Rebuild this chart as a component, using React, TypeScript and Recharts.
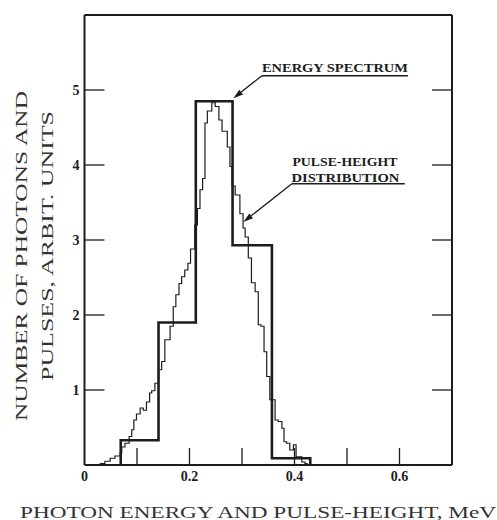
import React from 'react';
import { LineChart, Line, XAxis, YAxis, ReferenceLine, ReferenceDot } from 'recharts';

// energy spectrum (heavy histogram): bin edges and heights
const energyEdges = [0.069, 0.141, 0.212, 0.282, 0.357, 0.43];
const energyValues = [0.33, 1.9, 4.85, 2.93, 0.09];

// pulse-height distribution (fine histogram)
const pulseEdges = [
  0.03, 0.039, 0.049, 0.058, 0.068, 0.071, 0.077, 0.085, 0.09, 0.094, 0.099, 0.106, 0.112,
  0.118, 0.124, 0.128, 0.134, 0.141, 0.147, 0.153, 0.163, 0.169, 0.174, 0.18, 0.185, 0.191,
  0.197, 0.202, 0.21, 0.215, 0.22, 0.225, 0.2295, 0.234, 0.2425, 0.249, 0.256, 0.262, 0.272,
  0.277, 0.281, 0.287, 0.296, 0.302, 0.306, 0.312, 0.318, 0.325, 0.331, 0.336, 0.342, 0.347,
  0.353, 0.358, 0.363, 0.369, 0.376, 0.38, 0.385, 0.391, 0.398, 0.403, 0.414, 0.42, 0.424,
];
const pulseValues = [
  0.02, 0.05, 0.09, 0.12, 0.17, 0.24, 0.29, 0.38, 0.47, 0.6, 0.68, 0.76, 0.73, 0.84, 0.96,
  0.99, 1.09, 1.27, 1.38, 1.67, 1.85, 2.11, 2.27, 2.42, 2.51, 2.6, 2.69, 2.88, 3.2, 3.42, 3.67,
  3.82, 4.56, 4.72, 4.83, 4.78, 4.6, 4.45, 4.24, 3.98, 3.72, 3.6, 3.35, 3.16, 3.04, 2.76, 2.43,
  2.31, 1.87, 1.85, 1.51, 1.18, 0.87, 0.87, 0.6, 0.58, 0.49, 0.31, 0.29, 0.2, 0.27, 0.11, 0.04,
  0.02,
];

const xTicks = [0, 0.1, 0.2, 0.3, 0.4, 0.5, 0.6];
const xLabels = ['0', '', '0.2', '', '0.4', '', '0.6'];
const yTicks = [1, 2, 3, 4, 5];
const yLabels = ['1', '2', '3', '4', '5'];

const INK = '#1c1c1c';
const SERIF = '"Liberation Serif", "DejaVu Serif", serif';

// histogram outline: rise at first edge, step across bins, drop at last edge
const toSteps = (edges: number[], values: number[]) => [
  { x: edges[0], y: 0 },
  ...values.map((v, i) => ({ x: edges[i], y: v })),
  { x: edges[edges.length - 1], y: 0 },
];

const energyData = toSteps(energyEdges, energyValues);
const pulseData = toSteps(pulseEdges, pulseValues);

const BottomTick = (props: any) => {
  const { x, y, payload } = props;
  const axisY = y - 5;
  const label = xLabels[xTicks.indexOf(payload.value)];
  return (
    <g>
      {payload.value !== 0 && (
        <line x1={x} x2={x} y1={axisY} y2={axisY - 17} stroke={INK} strokeWidth={1.3} />
      )}
      {label && (
        <text x={x} y={y} dy="0.8em" textAnchor="middle" fontFamily={SERIF} fontSize={14} fontWeight="bold" fill={INK}>
          {label}
        </text>
      )}
    </g>
  );
};

const TopTick = (props: any) => {
  const { x, y, payload } = props;
  if (payload.value === 0) return <g />;
  return <line x1={x} x2={x} y1={y} y2={y + 13} stroke={INK} strokeWidth={1.3} />;
};

const LeftTick = (props: any) => {
  const { x, y, payload } = props;
  const axisX = x + 5;
  return (
    <g>
      <line x1={axisX} x2={axisX + 20} y1={y} y2={y} stroke={INK} strokeWidth={1.3} />
      <text x={x} y={y} dy="0.35em" textAnchor="end" fontFamily={SERIF} fontSize={14} fontWeight="bold" fill={INK}>
        {yLabels[yTicks.indexOf(payload.value)]}
      </text>
    </g>
  );
};

const RightTick = (props: any) => {
  const { x, y } = props;
  return <line x1={x} x2={x - 20} y1={y} y2={y} stroke={INK} strokeWidth={1.3} />;
};

const Arrow = (props: any) => {
  const { x1, y1, x2, y2 } = props;
  const ang = Math.atan2(y2 - y1, x2 - x1);
  const len = 10;
  const w = 3;
  const bx = x2 - len * Math.cos(ang);
  const by = y2 - len * Math.sin(ang);
  const px = -Math.sin(ang) * w;
  const py = Math.cos(ang) * w;
  return (
    <g>
      <line x1={x1} y1={y1} x2={bx} y2={by} stroke={INK} strokeWidth={1.3} />
      <polygon points={`${x2},${y2} ${bx + px},${by + py} ${bx - px},${by - py}`} fill={INK} />
    </g>
  );
};

const noteText = (text: string, width: number) => (p: any) => {
  const { viewBox } = p;
  return (
    <text
      x={viewBox.x}
      y={viewBox.y}
      textAnchor="middle"
      fontFamily={SERIF}
      fontSize={13}
      fontWeight="bold"
      fill={INK}
      textLength={width}
      lengthAdjust="spacingAndGlyphs"
    >
      {text}
    </text>
  );
};

const YTitle = () => (
  <g fontFamily={SERIF} fontSize={17} fill="#333">
    <text x={21} y={256} transform="rotate(-90, 21, 256)" textAnchor="middle" dominantBaseline="central" textLength={330} lengthAdjust="spacingAndGlyphs">
      NUMBER OF PHOTONS AND
    </text>
    <text x={47} y={246} transform="rotate(-90, 47, 246)" textAnchor="middle" dominantBaseline="central" textLength={270} lengthAdjust="spacingAndGlyphs">
      PULSES, ARBIT. UNITS
    </text>
  </g>
);

const XTitle = () => (
  <text x={258} y={512} textAnchor="middle" dominantBaseline="central" fontFamily={SERIF} fontSize={17} fill="#333" textLength={476} lengthAdjust="spacingAndGlyphs">
    PHOTON ENERGY AND PULSE-HEIGHT, MeV
  </text>
);

const App: React.FC = () => {
  return (
    <div style={{ position: 'absolute', left: 0, top: 0, width: 497, height: 520, background: '#fff' }}>
      <LineChart width={497} height={520} margin={{ top: 10, right: 35, left: 44.5, bottom: 25 }}>
        <XAxis
          xAxisId="b"
          dataKey="x"
          type="number"
          domain={[0, 0.7]}
          ticks={xTicks}
          interval={0}
          height={30}
          tickSize={0}
          tickMargin={5}
          tickLine={false}
          axisLine={{ stroke: INK, strokeWidth: 2 }}
          tick={BottomTick}
          allowDataOverflow
          label={{ content: XTitle }}
        />
        <XAxis
          xAxisId="t"
          orientation="top"
          type="number"
          domain={[0, 0.7]}
          ticks={xTicks}
          interval={0}
          height={5}
          tickSize={0}
          tickMargin={0}
          tickLine={false}
          axisLine={{ stroke: INK, strokeWidth: 2 }}
          tick={TopTick}
          allowDataOverflow
        />
        <YAxis
          yAxisId="l"
          type="number"
          domain={[0, 6]}
          ticks={yTicks}
          interval={0}
          width={40}
          tickSize={0}
          tickMargin={5}
          tickLine={false}
          axisLine={{ stroke: INK, strokeWidth: 2 }}
          tick={LeftTick}
          allowDataOverflow
          label={{ content: YTitle }}
        />
        <YAxis
          yAxisId="r"
          orientation="right"
          type="number"
          domain={[0, 6]}
          ticks={yTicks}
          interval={0}
          width={10}
          tickSize={0}
          tickMargin={0}
          tickLine={false}
          axisLine={{ stroke: INK, strokeWidth: 2 }}
          tick={RightTick}
          allowDataOverflow
        />
        <Line
          xAxisId="b"
          yAxisId="l"
          data={pulseData}
          dataKey="y"
          type="stepAfter"
          stroke={INK}
          strokeWidth={1.2}
          dot={false}
          isAnimationActive={false}
        />
        <Line
          xAxisId="b"
          yAxisId="l"
          data={energyData}
          dataKey="y"
          type="stepAfter"
          stroke={INK}
          strokeWidth={2.6}
          strokeLinejoin="miter"
          dot={false}
          isAnimationActive={false}
        />
        {/* ENERGY SPECTRUM note */}
        <ReferenceLine xAxisId="b" yAxisId="l" segment={[{ x: 0.338, y: 5.19 }, { x: 0.616, y: 5.19 }]} stroke={INK} strokeWidth={1.3} />
        <ReferenceLine xAxisId="b" yAxisId="l" segment={[{ x: 0.338, y: 5.19 }, { x: 0.2835, y: 4.89 }]} shape={Arrow} />
        <ReferenceDot xAxisId="b" yAxisId="l" x={0.477} y={5.24} r={0} stroke="none" label={{ content: noteText('ENERGY SPECTRUM', 146) }} />
        {/* PULSE-HEIGHT DISTRIBUTION note */}
        <ReferenceLine xAxisId="b" yAxisId="l" segment={[{ x: 0.395, y: 3.75 }, { x: 0.61, y: 3.75 }]} stroke={INK} strokeWidth={1.3} />
        <ReferenceLine xAxisId="b" yAxisId="l" segment={[{ x: 0.395, y: 3.75 }, { x: 0.3025, y: 3.24 }]} shape={Arrow} />
        <ReferenceDot xAxisId="b" yAxisId="l" x={0.496} y={3.99} r={0} stroke="none" label={{ content: noteText('PULSE-HEIGHT', 105) }} />
        <ReferenceDot xAxisId="b" yAxisId="l" x={0.497} y={3.78} r={0} stroke="none" label={{ content: noteText('DISTRIBUTION', 108) }} />
      </LineChart>
    </div>
  );
};

export default App;
